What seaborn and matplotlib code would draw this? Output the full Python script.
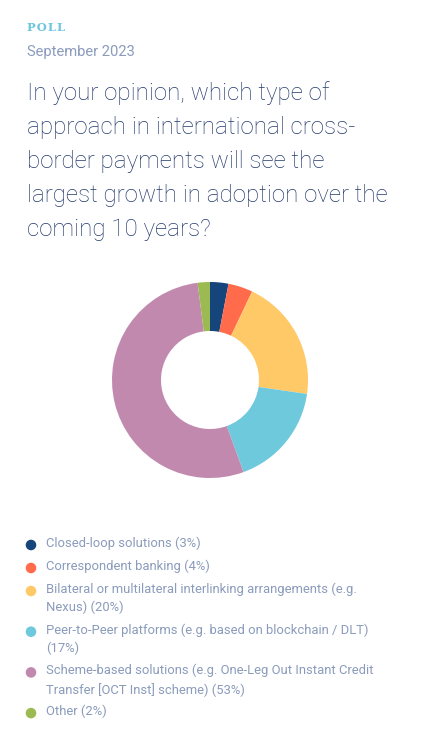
import matplotlib
matplotlib.use("Agg")
import matplotlib.pyplot as plt
import seaborn as sns

# ---- data ----
categories = [
    "Closed-loop solutions (3%)",
    "Correspondent banking (4%)",
    "Bilateral or multilateral interlinking arrangements (e.g.\nNexus) (20%)",
    "Peer-to-Peer platforms (e.g. based on blockchain / DLT)\n(17%)",
    "Scheme-based solutions (e.g. One-Leg Out Instant Credit\nTransfer [OCT Inst] scheme) (53%)",
    "Other (2%)",
]
values = [3, 4, 20, 17, 53, 2]
colors_hex = ["#15457a", "#ff6b4b", "#ffc968", "#6fc9dd", "#c289af", "#9bbb52"]

kicker = "P\u200aO\u200aL\u200aL"
date_text = "September 2023"
title_lines = [
    "In your opinion, which type of",
    "approach in international cross-",
    "border payments will see the",
    "largest growth in adoption over the",
    "coming 10 years?",
]

sns.set_theme(style="white")
plt.rcParams["font.family"] = ["Roboto", "DejaVu Sans"]

W, H = 422, 751
fig = plt.figure(figsize=(W / 100, H / 100), dpi=100)
fig.patch.set_facecolor("white")

def fx(x):
    return x / W

def fy(y):
    return 1 - y / H

# header texts
fig.text(fx(27), fy(31), kicker, fontsize=8.2, fontweight="bold",
         family=["DejaVu Serif"], color="#6cc6de", va="baseline", ha="left")
fig.text(fx(27), fy(56), date_text, fontsize=10.6, color="#8a9bbb",
         va="baseline", ha="left")
for i, line in enumerate(title_lines):
    fig.text(fx(27), fy(100 + 34 * i), line, fontsize=17.4, fontweight="light",
             color="#243a6c", va="baseline", ha="left")

# donut
palette = sns.color_palette(colors_hex)
cx, cy, r = 210, 380, 100
ax = fig.add_axes([fx(cx - r), fy(cy + r), 2 * r / W, 2 * r / H])
ax.pie(values, colors=palette, startangle=90, counterclock=False, radius=0.98,
       wedgeprops=dict(width=0.49, linewidth=0))
ax.set_xlim(-1, 1)
ax.set_ylim(-1, 1)
ax.set_aspect("equal")
ax.axis("off")

# legend
lax = fig.add_axes([0, 0, 1, 1])
lax.set_xlim(0, W)
lax.set_ylim(H, 0)
lax.axis("off")
y = 545
for label, col in zip(categories, palette):
    lax.scatter([31], [y], s=58, color=col, edgecolor="none")
    nlines = label.count("\n") + 1
    lax.text(46, y - 8.5, label, fontsize=9.4, color="#8a9bbb", va="top",
             ha="left", linespacing=1.48)
    y += 17.7 * (nlines - 1) + 23

fig.savefig("out.png", dpi=100, facecolor="white")
